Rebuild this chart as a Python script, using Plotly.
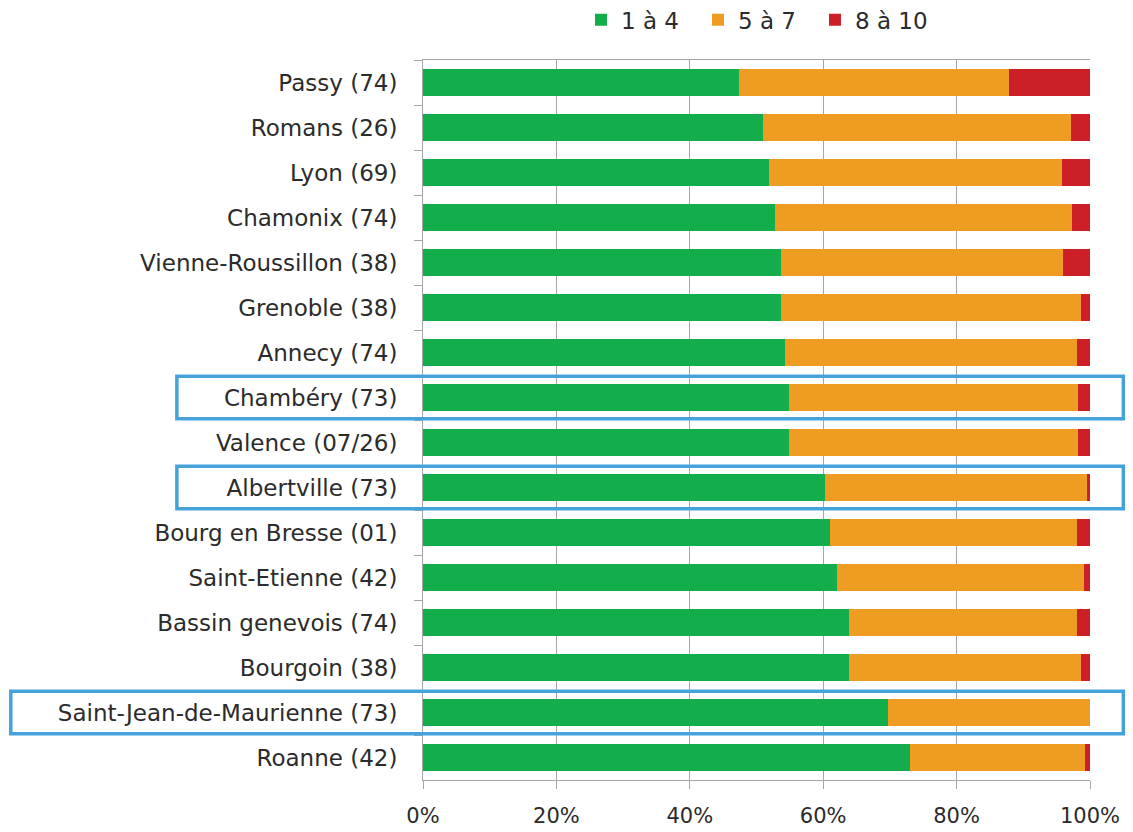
import plotly.graph_objects as go

# Share of answers per score band, by urban area
villes = [
    "Passy (74)", "Romans (26)", "Lyon (69)", "Chamonix (74)",
    "Vienne-Roussillon (38)", "Grenoble (38)", "Annecy (74)", "Chambéry (73)",
    "Valence (07/26)", "Albertville (73)", "Bourg en Bresse (01)",
    "Saint-Etienne (42)", "Bassin genevois (74)", "Bourgoin (38)",
    "Saint-Jean-de-Maurienne (73)", "Roanne (42)",
]
note_1_4 = [47.4, 50.9, 51.8, 52.8, 53.7, 53.7, 54.2, 54.8,
            54.8, 60.2, 61.0, 62.0, 63.9, 63.9, 69.7, 73.0]
note_5_7 = [40.5, 46.3, 44.0, 44.5, 42.3, 45.0, 43.8, 43.4,
            43.4, 39.4, 37.1, 37.1, 34.2, 34.8, 30.3, 26.3]
note_8_10 = [12.1, 2.8, 4.2, 2.7, 4.0, 1.3, 2.0, 1.8,
             1.8, 0.4, 1.9, 0.9, 1.9, 1.3, 0.0, 0.7]
serie_noms = ["1 à 4", "5 à 7", "8 à 10"]
tick_vals = [0, 20, 40, 60, 80, 100]
tick_txt = ["0%", "20%", "40%", "60%", "80%", "100%"]
villes_encadrees = ["Chambéry (73)", "Albertville (73)", "Saint-Jean-de-Maurienne (73)"]

couleurs = ["#14AD4B", "#EF9D22", "#CC1F27"]
police = "DejaVu Sans"
texte = "#2b2b2b"
gris = "#A6A6A6"

fig = go.Figure()
for nom, vals, coul in zip(serie_noms, [note_1_4, note_5_7, note_8_10], couleurs):
    fig.add_trace(go.Bar(
        y=villes, x=vals, name=nom, orientation="h",
        marker=dict(color=coul, line=dict(width=0)),
    ))

# Blue frames around the highlighted rows
gauche = {"Chambéry (73)": -0.369, "Albertville (73)": -0.369,
          "Saint-Jean-de-Maurienne (73)": -0.618}
for v in villes_encadrees:
    i = villes.index(v)
    fig.add_shape(type="rect", xref="paper", yref="y",
                  x0=gauche[v], x1=1.05, y0=i - 0.47, y1=i + 0.47,
                  line=dict(color="#45A3DA", width=3.5), layer="above")

fig.update_layout(
    width=1133, height=832,
    barmode="stack", bargap=0.42,
    margin=dict(l=423, r=43, t=60, b=52, autoexpand=False),
    paper_bgcolor="white", plot_bgcolor="white",
    font=dict(family=police, size=21, color=texte),
    legend=dict(orientation="h", x=0.5, xanchor="center", y=1.056, yanchor="middle",
                font=dict(size=23, color=texte), traceorder="normal",
                itemwidth=30, entrywidth=72),
    xaxis=dict(range=[0, 100], tickvals=tick_vals, ticktext=tick_txt,
               showgrid=True, gridcolor=gris, gridwidth=1,
               showline=True, linecolor=gris, linewidth=1, mirror=True,
               ticks="outside", ticklen=8, tickcolor=gris, automargin=False,
               ticklabelstandoff=9, zeroline=False,
               tickfont=dict(size=21, color=texte)),
    yaxis=dict(autorange="reversed", type="category", automargin=False,
               showline=True, linecolor=gris, linewidth=1,
               ticks="outside", ticklen=8, tickcolor=gris,
               tickson="boundaries", ticklabelstandoff=20,
               tickfont=dict(size=23, color=texte)),
)

fig.write_html("out.html")
